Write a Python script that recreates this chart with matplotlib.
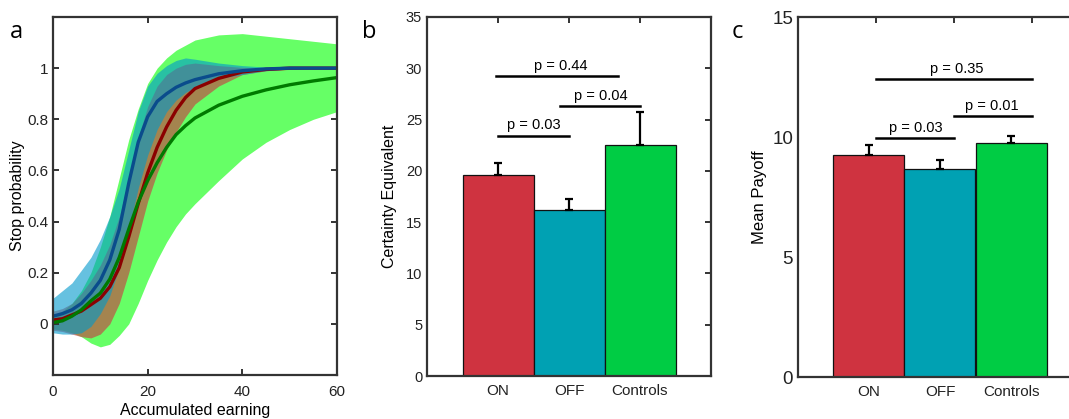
import numpy as np
import matplotlib
matplotlib.use("Agg")
import matplotlib.pyplot as plt

plt.rcParams['font.family'] = ['Liberation Sans', 'DejaVu Sans']

# ---- panel a: stop probability curves ----
earning = [0, 2, 4, 6, 8, 10, 12, 14, 16, 18, 20, 22, 24, 26, 28, 30, 35, 40, 45, 50, 55, 60]

on_mean = [.015, .02, .035, .05, .075, .10, .145, .22, .34, .47, .59, .69, .77, .835, .885, .92, .96, .985, .995, 1.0, 1.0, 1.0]
on_hi = [.05, .06, .08, .12, .17, .23, .31, .42, .57, .73, .85, .93, .975, 1.0, 1.015, 1.02, 1.01, 1.003, 1.0, 1.0, 1.0, 1.0]
on_lo = [-.025, -.03, -.04, -.05, -.055, -.04, .0, .08, .20, .34, .48, .59, .68, .75, .81, .86, .93, .975, .99, .995, 1.0, 1.0]

off_mean = [.03, .04, .055, .08, .12, .17, .25, .37, .55, .71, .81, .87, .90, .925, .942, .955, .978, .99, .997, 1.0, 1.0, 1.0]
off_hi = [.10, .13, .16, .21, .26, .33, .42, .53, .68, .83, .93, .98, 1.01, 1.03, 1.04, 1.035, 1.02, 1.01, 1.004, 1.0, 1.0, 1.0]
off_lo = [-.035, -.04, -.04, -.035, -.01, .04, .11, .22, .37, .53, .66, .76, .83, .875, .905, .925, .96, .975, .99, .997, 1.0, 1.0]

ctl_mean = [.005, .012, .03, .055, .09, .12, .175, .26, .37, .475, .56, .63, .69, .74, .775, .805, .855, .89, .915, .935, .95, .963]
ctl_hi = [.03, .05, .08, .13, .20, .30, .42, .57, .72, .84, .94, 1.0, 1.04, 1.07, 1.09, 1.11, 1.13, 1.135, 1.125, 1.115, 1.105, 1.095]
ctl_lo = [-.02, -.025, -.035, -.05, -.075, -.09, -.08, -.045, .0, .08, .17, .25, .32, .38, .43, .47, .56, .645, .71, .76, .80, .83]

# ---- panels b, c: bars ----
groups = ['ON', 'OFF', 'Controls']
ce_mean = [19.6, 16.2, 22.5]
ce_err = [1.2, 1.05, 3.2]
pay_mean = [9.24, 8.67, 9.74]
pay_err = [0.43, 0.36, 0.29]

# significance brackets: (x0, x1, y, text x, label)
ce_sig = [(1.0, 2.0, 23.4, 1.51, 'p = 0.03'),
          (1.87, 3.0, 26.3, 2.45, 'p = 0.04'),
          (0.97, 2.69, 29.2, 1.89, 'p = 0.44')]
pay_sig = [(1, 2, 9.95, 1.51, 'p = 0.03'),
           (2, 3, 10.87, 2.49, 'p = 0.01'),
           (1, 3, 12.4, 2.04, 'p = 0.35')]

bar_colors = ['#CF3340', '#00A1B3', '#00CC44']
band_colors = ['#CF3340', '#0099CC', '#00FF00']
line_colors = ['#8B0000', '#0A4C8C', '#007A00']
spine_c = '#333333'

W, H = 1069, 419
fig = plt.figure(figsize=(W / 100, H / 100), dpi=100)


def style_axes(ax):
    for s in ax.spines.values():
        s.set_color(spine_c)
        s.set_linewidth(1.6)
    ax.tick_params(direction='in', length=4, width=1.4, color=spine_c,
                   labelcolor='#222222')


# panel a
ax_a = fig.add_axes([53 / W, 1 - 375 / H, 284 / W, 358 / H])
ax_a.fill_between(earning, ctl_lo, ctl_hi, color=band_colors[2], alpha=0.6, lw=0)
ax_a.fill_between(earning, on_lo, on_hi, color=band_colors[0], alpha=0.6, lw=0)
ax_a.fill_between(earning, off_lo, off_hi, color=band_colors[1], alpha=0.6, lw=0)
ax_a.plot(earning, on_mean, color=line_colors[0], lw=2.4, solid_joinstyle='round')
ax_a.plot(earning, ctl_mean, color=line_colors[2], lw=2.4, solid_joinstyle='round')
ax_a.plot(earning, off_mean, color=line_colors[1], lw=2.4, solid_joinstyle='round')
ax_a.set_xlim(0, 60)
ax_a.set_ylim(-0.2, 1.2)
ax_a.set_xticks([0, 20, 40, 60])
ax_a.set_yticks([0, 0.2, 0.4, 0.6, 0.8, 1])
ax_a.set_yticklabels(['0', '0.2', '0.4', '0.6', '0.8', '1'])
style_axes(ax_a)
ax_a.tick_params(top=True, right=True, labelsize=11)
ax_a.tick_params(axis='x', pad=7)
ax_a.set_xlabel('Accumulated earning', fontsize=11.5, labelpad=3)
ax_a.set_ylabel('Stop probability', fontsize=11.5)
ax_a.yaxis.set_label_coords(-0.10, 0.5)


def bar_panel(ax, means, errs, ylim, yticks, ylabsize):
    x = np.arange(1, len(means) + 1)
    ax.bar(x, means, width=1.0, color=bar_colors, edgecolor='#111111', lw=0.9, zorder=2)
    ax.errorbar(x, means, yerr=[np.zeros(len(errs)), errs], fmt='none',
                ecolor='black', elinewidth=1.6, capsize=3, capthick=1.6, zorder=3)
    ax.set_xlim(0, 4)
    ax.set_ylim(*ylim)
    ax.set_xticks(x)
    ax.set_xticklabels(groups)
    ax.set_yticks(yticks)
    style_axes(ax)
    ax.tick_params(axis='x', bottom=False, top=True, labelsize=11, pad=6)
    ax.tick_params(axis='y', left=False, right=True, labelsize=ylabsize)


# panel b
ax_b = fig.add_axes([427 / W, 1 - 376 / H, 284 / W, 359 / H])
bar_panel(ax_b, ce_mean, ce_err, (0, 35), range(0, 36, 5), 10.5)
for x0, x1, y, tx, lab in ce_sig:
    ax_b.plot([x0, x1], [y, y], color='black', lw=1.8, zorder=4)
    ax_b.text(tx, y + 0.35, lab, ha='center', va='bottom', fontsize=10.5)
ax_b.set_ylabel('Certainty Equivalent', fontsize=11.5)
ax_b.yaxis.set_label_coords(-0.105, 0.5)

# panel c (axes runs past the right edge of the figure)
ax_c = fig.add_axes([798 / W, 1 - 377 / H, 284 / W, 360 / H])
bar_panel(ax_c, pay_mean, pay_err, (0, 15), [0, 5, 10, 15], 13.5)
ax_c.tick_params(axis='x', top=False)
ax_c2 = ax_c.twiny()
ax_c2.set_xlim(0, 3.64)
ax_c2.set_xticks([1, 2, 3])
ax_c2.set_xticklabels([])
ax_c2.tick_params(direction='in', length=4, width=1.4, color=spine_c, top=True)
for s in ax_c2.spines.values():
    s.set_visible(False)
for x0, x1, y, tx, lab in pay_sig:
    ax_c2.plot([x0, x1], [y, y], color='black', lw=1.8, zorder=4)
    ax_c2.text(tx, y + 0.15, lab, ha='center', va='bottom', fontsize=10.5)
ax_c.set_ylabel('Mean Payoff', fontsize=12)
ax_c.yaxis.set_label_coords(-0.11, 0.5)

# panel letters
for px, lab in [(10, 'a'), (362, 'b'), (732, 'c')]:
    fig.text(px / W, 1 - 38 / H, lab, fontsize=17, family=['Open Sans', 'DejaVu Sans'],
             ha='left', va='baseline')

fig.savefig('out.png', dpi=100)
